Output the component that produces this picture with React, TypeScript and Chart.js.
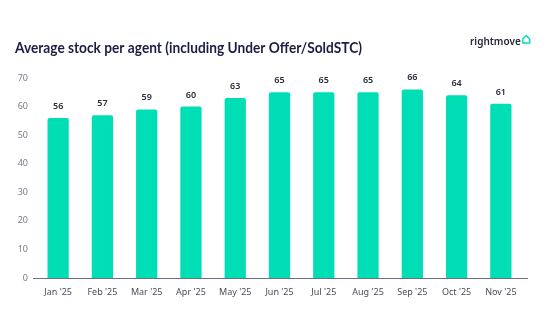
import React, { useEffect, useRef } from "react";
import { Chart, registerables } from "chart.js";

Chart.register(...registerables);

const categories = ["Jan '25", "Feb '25", "Mar '25", "Apr '25", "May '25", "Jun '25", "Jul '25", "Aug '25", "Sep '25", "Oct '25", "Nov '25"];
const stockPerAgent = [56, 57, 59, 60, 63, 65, 65, 65, 66, 64, 61];
const yTicks = [0, 10, 20, 30, 40, 50, 60, 70];
const titleText = "Average stock per agent (including Under Offer/SoldSTC)";
const logoText = "rightmove";

const FONT = "'Noto Sans', sans-serif";
const TITLE_FONT = "Lato, sans-serif";

const decorPlugin = {
  id: "decor",
  afterDatasetsDraw(chart: any) {
    const ctx = chart.ctx;
    const meta = chart.getDatasetMeta(0);
    ctx.save();
    ctx.fillStyle = "#2b2b3a";
    ctx.font = `600 9px ${FONT}`;
    ctx.textAlign = "center";
    ctx.textBaseline = "bottom";
    meta.data.forEach((bar: any, i: number) => {
      ctx.fillText(String(stockPerAgent[i]), bar.x, bar.y - 7);
    });
    const ca = chart.chartArea;
    ctx.strokeStyle = "#6e6e80";
    ctx.lineWidth = 1;
    ctx.beginPath();
    ctx.moveTo(ca.left - 3, ca.bottom + 0.5);
    ctx.lineTo(ca.right + 5, ca.bottom + 0.5);
    ctx.stroke();
    ctx.restore();
  },
  afterDraw(chart: any) {
    const ctx = chart.ctx;
    ctx.save();
    ctx.fillStyle = "#1b1d45";
    ctx.font = `700 14.5px ${TITLE_FONT}`;
    ctx.textAlign = "left";
    ctx.textBaseline = "middle";
    const target = 347;
    const tw = ctx.measureText(titleText).width;
    const sx = Math.min(1, target / tw);
    ctx.translate(15, 48);
    ctx.scale(sx, 1);
    ctx.fillText(titleText, 0, 0);
    ctx.setTransform(1, 0, 0, 1, 0, 0);
    ctx.fillStyle = "#262637";
    ctx.font = `600 10px ${FONT}`;
    ctx.fillText(logoText, 470, 42);
    const w = ctx.measureText(logoText).width;
    const hx = 470 + w + 2;
    ctx.strokeStyle = "#00DEB6";
    ctx.lineWidth = 1.4;
    ctx.beginPath();
    ctx.moveTo(hx, 39);
    ctx.lineTo(hx + 3.5, 35.5);
    ctx.lineTo(hx + 7, 39);
    ctx.lineTo(hx + 7, 43);
    ctx.lineTo(hx, 43);
    ctx.closePath();
    ctx.stroke();
    ctx.restore();
  },
};

export default function App() {
  const ref = useRef<HTMLCanvasElement>(null);
  useEffect(() => {
    if (!ref.current) return;
    const chart = new Chart(ref.current, {
      type: "bar",
      data: {
        labels: categories,
        datasets: [
          {
            data: stockPerAgent,
            backgroundColor: "#00DEB6",
            borderRadius: 2,
            borderSkipped: "bottom",
            categoryPercentage: 1,
            barPercentage: 0.48,
          },
        ],
      },
      options: {
        responsive: false,
        animation: false,
        devicePixelRatio: 1,
        layout: { padding: { left: 0, right: 31, top: 78, bottom: 23 } },
        plugins: {
          legend: { display: false },
          title: { display: false },
          tooltip: { enabled: false },
        },
        scales: {
          x: {
            grid: { display: false, drawTicks: false },
            border: { display: false },
            ticks: { color: "#4a4a5a", font: { family: FONT, size: 9 }, padding: 9, maxRotation: 0 },
            afterFit: (s: any) => { s.height = 30; },
          },
          y: {
            min: 0,
            max: 70,
            grid: { display: false, drawTicks: false },
            border: { display: false },
            afterBuildTicks: (s: any) => { s.ticks = yTicks.map((v) => ({ value: v })); },
            ticks: { color: "#7a7a8c", font: { family: FONT, size: 9 }, padding: 8 },
            afterFit: (s: any) => { s.width = 36; },
          },
        },
      },
      plugins: [decorPlugin],
    });
    return () => chart.destroy();
  }, []);
  return (
    <div style={{ position: "fixed", left: 0, top: 0, width: 554, height: 331, background: "#fff" }}>
      <canvas ref={ref} width={554} height={331} style={{ width: 554, height: 331 }} />
    </div>
  );
}
